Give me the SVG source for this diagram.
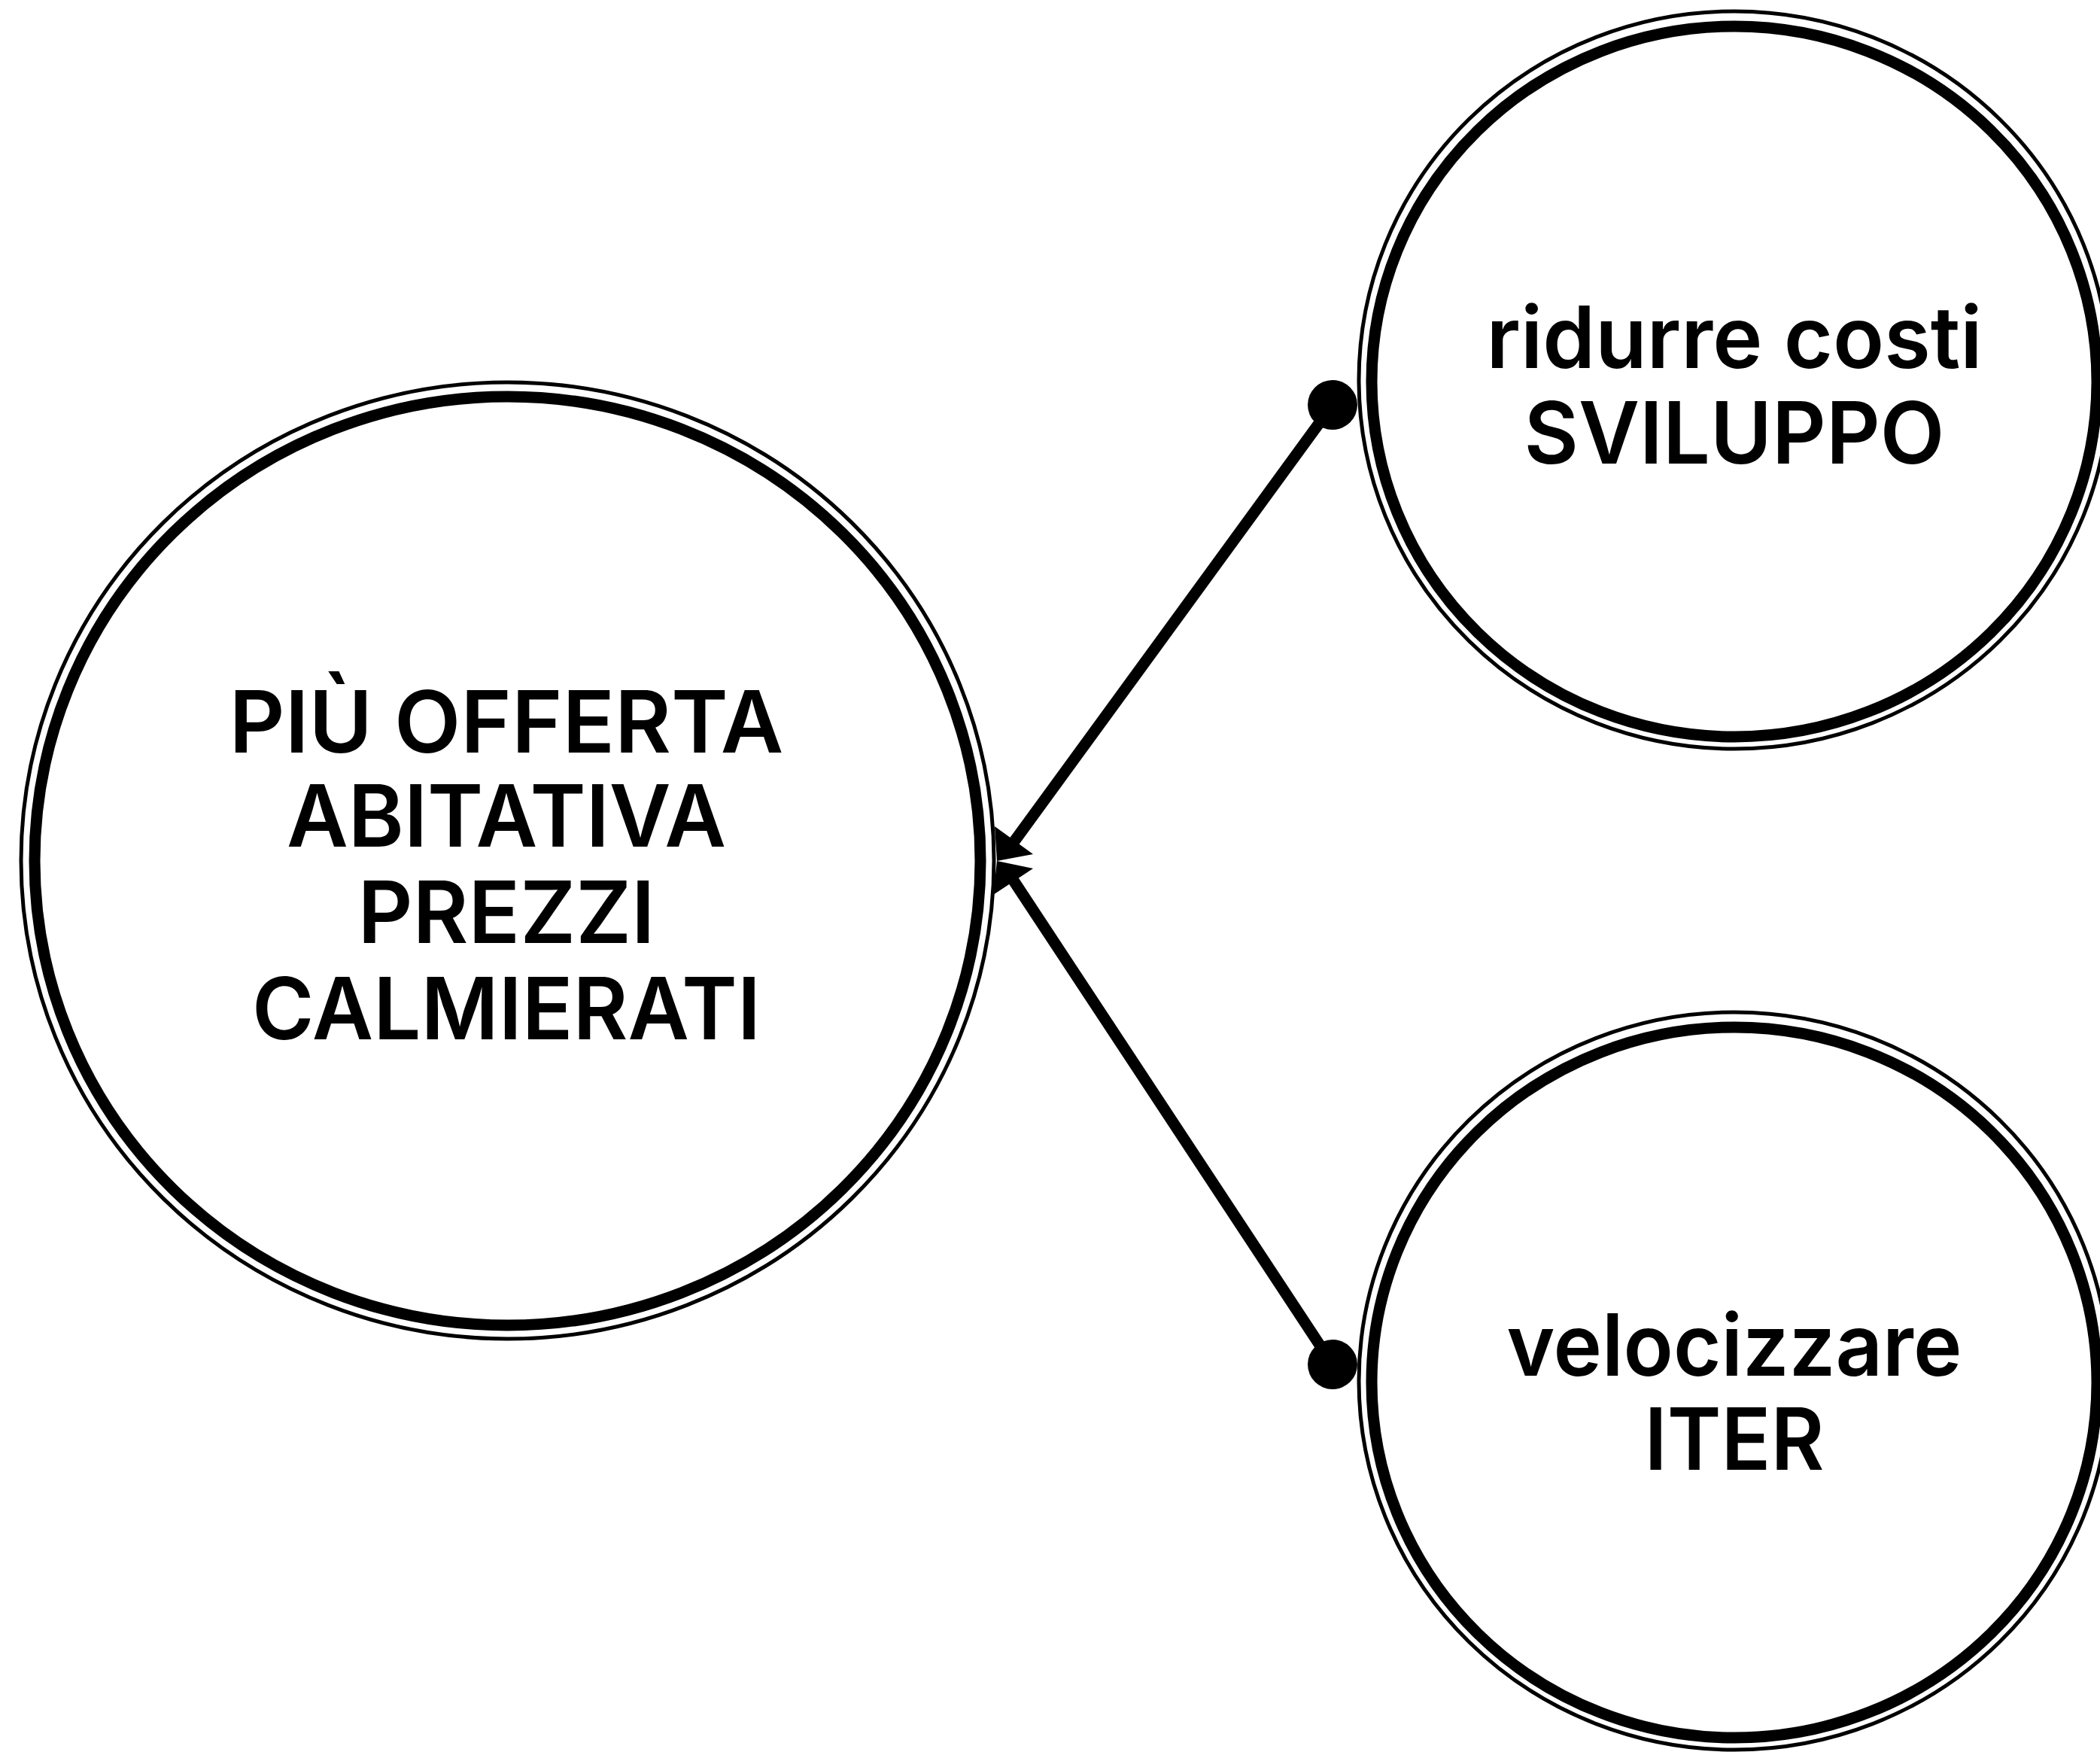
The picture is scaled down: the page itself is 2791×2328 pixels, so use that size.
<svg xmlns="http://www.w3.org/2000/svg" width="2791" height="2328" viewBox="0 0 2791 2328">
  <style>
    .thick { fill: none; stroke: #000; stroke-width: 15; }
    .thin { fill: none; stroke: #000; stroke-width: 5; }
    .label { font-family: Inter, "Open Sans", "Liberation Sans", sans-serif; font-weight: 600; font-size: 114px; fill: #000; text-anchor: middle; }
    .conn { fill: none; stroke: #000; stroke-width: 15; }
    .head { fill: #000; stroke: none; }
  </style>
  <rect width="2791" height="2328" fill="#fff"/>
  <g id="connectors">
    <path class="conn" d="M1771,538 L1348,1118"/>
    <circle class="head" cx="1771" cy="538" r="33"/>
    <polygon class="head" points="1325,1144 1322,1098 1373,1135"/>
    <path class="conn" d="M1771,1813 L1347,1170"/>
    <circle class="head" cx="1771" cy="1813" r="33"/>
    <polygon class="head" points="1325,1144 1373,1154 1320,1189"/>
  </g>
  <g id="node-main">
    <ellipse class="thin" cx="674.5" cy="1143.5" rx="646.5" ry="635.5"/>
    <ellipse class="thick" cx="674.5" cy="1144" rx="628.5" ry="617"/>
    <text class="label" x="673" y="1000" textLength="737" lengthAdjust="spacingAndGlyphs">PIÙ OFFERTA</text>
    <text class="label" x="673" y="1125" textLength="584" lengthAdjust="spacingAndGlyphs">ABITATIVA</text>
    <text class="label" x="673" y="1253" textLength="395" lengthAdjust="spacingAndGlyphs">PREZZI</text>
    <text class="label" x="673" y="1381" textLength="676" lengthAdjust="spacingAndGlyphs">CALMIERATI</text>
  </g>
  <g id="node-costi">
    <ellipse class="thin" cx="2305" cy="505" rx="499" ry="490"/>
    <ellipse class="thick" cx="2305" cy="507" rx="482" ry="472"/>
    <text class="label" x="2305" y="489" textLength="659" lengthAdjust="spacingAndGlyphs">ridurre costi</text>
    <text class="label" x="2305" y="616" textLength="559" lengthAdjust="spacingAndGlyphs">SVILUPPO</text>
  </g>
  <g id="node-iter">
    <ellipse class="thin" cx="2305" cy="1835" rx="499" ry="490"/>
    <ellipse class="thick" cx="2305" cy="1837" rx="482" ry="472"/>
    <text class="label" x="2305" y="1828" textLength="605" lengthAdjust="spacingAndGlyphs">velocizzare</text>
    <text class="label" x="2305" y="1953" textLength="239" lengthAdjust="spacingAndGlyphs">ITER</text>
  </g>
</svg>
